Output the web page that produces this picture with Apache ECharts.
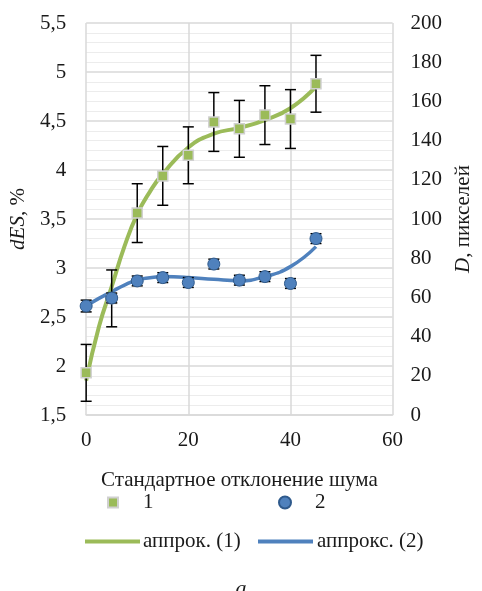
<!DOCTYPE html>
<html><head><meta charset="utf-8">
<script src="https://cdn.jsdelivr.net/npm/echarts@6/dist/echarts.min.js"></script>
<style>html,body{margin:0;padding:0;background:#fff;overflow:hidden}#c{width:482px;height:591px}</style>
</head><body><div id="c"></div>
<script>
// Data
const noiseStd = [0, 5, 10, 15, 20, 25, 30, 35, 40, 45];
const dES = [1.93, 2.69, 3.56, 3.94, 4.15, 4.49, 4.42, 4.56, 4.52, 4.88];
const dESErr = [0.29, 0.29, 0.30, 0.30, 0.29, 0.30, 0.29, 0.30, 0.30, 0.29];
const D = [55.6, 59.7, 68.4, 70.1, 67.6, 77.0, 68.8, 70.6, 67.1, 90.0];
const DErr = [3, 2.5, 2.5, 2.5, 2.5, 2.5, 2.5, 2.5, 2.5, 2.5];
const trendX = [0, 2.5, 5, 7.5, 10, 12.5, 15, 20, 25, 30, 35, 40, 45];
const trend1 = [1.85, 2.40, 2.81, 3.22, 3.55, 3.78, 3.96, 4.23, 4.37, 4.43, 4.51, 4.63, 4.85];
const trend2 = [55.6, 59.5, 62.9, 66.3, 68.9, 70.0, 70.6, 70.2, 69.2, 68.5, 70.6, 75.7, 85.9];
const xTicks = [0, 20, 40, 60];
const leftTicks = [1.5, 2, 2.5, 3, 3.5, 4, 4.5, 5, 5.5];
const rightTicks = [0, 20, 40, 60, 80, 100, 120, 140, 160, 180, 200];
const names = { s1: '1', s2: '2', t1: 'аппрок. (1)', t2: 'аппрокс. (2)' };

const FONT = 'Liberation Serif';
const GREEN = '#9BBB59', BLUE = '#4F81BD';

function pairs(xs, ys) { return xs.map((x, i) => [x, ys[i]]); }
function errData(xs, ys, es) { return xs.map((x, i) => [x, ys[i] - es[i], ys[i] + es[i]]); }
function errRender(params, api) {
  const x = api.value(0);
  const lo = api.coord([x, api.value(1)]);
  const hi = api.coord([x, api.value(2)]);
  const w = 5.5;
  const st = { stroke: '#000', lineWidth: 1.5 };
  return { type: 'group', children: [
    { type: 'line', shape: { x1: lo[0], y1: lo[1], x2: hi[0], y2: hi[1] }, style: st },
    { type: 'line', shape: { x1: lo[0] - w, y1: lo[1], x2: lo[0] + w, y2: lo[1] }, style: st },
    { type: 'line', shape: { x1: hi[0] - w, y1: hi[1], x2: hi[0] + w, y2: hi[1] }, style: st }
  ]};
}
const fmt = v => String(v).replace('.', ',');
const FS = 21;
const txt = { fontFamily: FONT, fontSize: FS, color: '#1a1a1a' };
const ital = { i: { fontFamily: FONT, fontSize: FS, fontStyle: 'italic', color: '#1a1a1a' } };

const chart = echarts.init(document.getElementById('c'));
chart.setOption({
  animation: false,
  backgroundColor: '#fff',
  textStyle: { fontFamily: FONT },
  grid: { left: 84, right: 79, top: 23, bottom: 176, containLabel: false },
  title: { text: 'а', left: 'center', top: 573, textStyle: { fontFamily: FONT, fontSize: 22, fontStyle: 'italic', fontWeight: 'normal', color: '#1a1a1a' } },
  legend: [
    { data: [names.s1], left: 102, top: 487, itemWidth: 10, itemHeight: 10, textStyle: Object.assign({}, txt, { padding: [0, 0, 0, 20] }) },
    { data: [names.s2], left: 273, top: 487, itemWidth: 12, itemHeight: 12, textStyle: Object.assign({}, txt, { padding: [0, 0, 0, 19] }) },
    { data: [{ name: names.t1, icon: 'rect' }], left: 80, top: 526, itemWidth: 55, itemHeight: 4, textStyle: Object.assign({}, txt, { padding: [0, 0, 0, -2] }) },
    { data: [{ name: names.t2, icon: 'rect' }], left: 253, top: 526, itemWidth: 55, itemHeight: 4, textStyle: Object.assign({}, txt, { padding: [0, 0, 0, -1] }) }
  ],
  xAxis: {
    type: 'value', min: xTicks[0], max: xTicks[xTicks.length - 1], interval: 20,
    name: 'Стандартное отклонение шума', nameLocation: 'middle', nameGap: 55,
    nameTextStyle: txt,
    axisLine: { lineStyle: { color: '#d9d9d9', width: 1.5 } },
    axisTick: { show: false },
    axisLabel: Object.assign({}, txt, { margin: 15 }),
    splitLine: { show: true, lineStyle: { color: '#d9d9d9', width: 1.5 } }
  },
  yAxis: [
    {
      type: 'value', min: leftTicks[0], max: leftTicks[leftTicks.length - 1], interval: 0.5, position: 'left',
      name: '{i|dES}, %', nameLocation: 'middle', nameGap: 50,
      nameTextStyle: Object.assign({}, txt, { rich: ital }),
      axisLine: { show: false }, axisTick: { show: false },
      axisLabel: Object.assign({}, txt, { margin: 20, formatter: fmt }),
      splitLine: { show: true, lineStyle: { color: '#d9d9d9', width: 1.5 } },
      minorTick: { show: false, splitNumber: 5 },
      minorSplitLine: { show: true, lineStyle: { color: '#ececec', width: 1 } }
    },
    {
      type: 'value', min: rightTicks[0], max: rightTicks[rightTicks.length - 1], interval: 20, position: 'right',
      name: '{i|D}, пикселей', nameLocation: 'middle', nameGap: 52,
      nameTextStyle: Object.assign({}, txt, { rich: ital }),
      axisLine: { show: false }, axisTick: { show: false },
      axisLabel: Object.assign({}, txt, { margin: 18 }),
      splitLine: { show: false }
    }
  ],
  series: [
    { name: names.t2, type: 'line', yAxisIndex: 1, data: pairs(trendX, trend2), smooth: 0.5, symbol: 'none', z: 2,
      lineStyle: { color: BLUE, width: 3.5 }, itemStyle: { color: BLUE } },
    { name: names.t1, type: 'line', yAxisIndex: 0, data: pairs(trendX, trend1), smooth: 0.5, symbol: 'none', z: 3,
      lineStyle: { color: GREEN, width: 4 }, itemStyle: { color: GREEN } },
    { name: 'err1', type: 'custom', yAxisIndex: 0, data: errData(noiseStd, dES, dESErr), renderItem: errRender, z: 4, silent: true },
    { name: names.s1, type: 'scatter', yAxisIndex: 0, data: pairs(noiseStd, dES), symbol: 'rect', symbolSize: 10, z: 5,
      itemStyle: { color: GREEN, borderColor: '#d0d0d0', borderWidth: 1.5, opacity: 1 } },
    { name: 'err2', type: 'custom', yAxisIndex: 1, data: errData(noiseStd, D, DErr), renderItem: errRender, z: 6, silent: true },
    { name: names.s2, type: 'scatter', yAxisIndex: 1, data: pairs(noiseStd, D), symbol: 'circle', symbolSize: 12, z: 7,
      itemStyle: { color: BLUE, borderColor: '#2f5a8c', borderWidth: 1, opacity: 1 } }
  ]
});
</script></body></html>
